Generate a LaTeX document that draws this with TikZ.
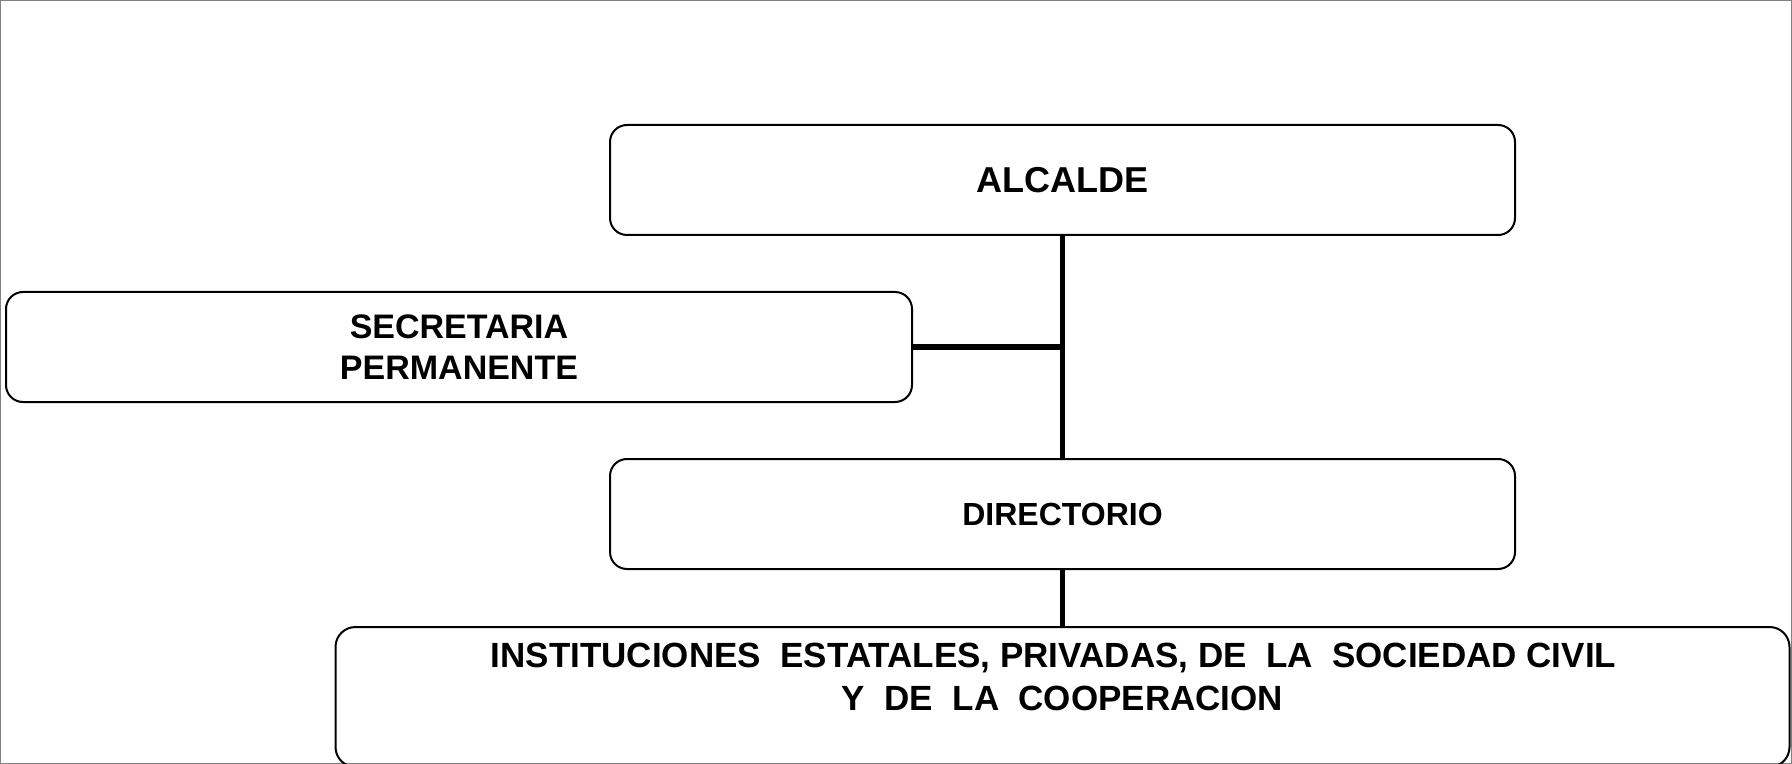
\documentclass[tikz,border=0pt]{standalone}
\usepackage{fontspec}
\setmainfont{Liberation Sans}
\usetikzlibrary{positioning}

\begin{document}
\begin{tikzpicture}[
    x=1pt, y=1pt,
    unit/.style={rectangle, draw=black, line width=1pt, rounded corners=8.5pt, inner sep=0pt, align=center, font=\bfseries},
    link/.style={line width=2.8pt, black}
]
\useasboundingbox (0,0) rectangle (896,-382);
\draw[gray, line width=0.5pt] (0.25,-0.25) rectangle (895.75,-381.75);

% Top: head of the organisation
\node[unit, minimum width=452.5pt, minimum height=55pt, font=\bfseries\fontsize{18}{22}\selectfont] (alcalde) at (531.25,-90) {ALCALDE};

% Side unit
\node[unit, anchor=north west, minimum width=453pt, minimum height=55pt, font=\bfseries\fontsize{17}{20.5}\selectfont] (secretaria) at (2.5,-145.5) {SECRETARIA\\PERMANENTE};

% Middle
\node[unit, below=111pt of alcalde, minimum width=452.5pt, minimum height=55pt, font=\bfseries\fontsize{16}{20}\selectfont] (directorio) {DIRECTORIO};

% Bottom
\node[unit, below=28pt of directorio, minimum width=727pt, minimum height=70pt, rounded corners=10pt, font=\bfseries\fontsize{17.5}{21.5}\selectfont] (instituciones) {INSTITUCIONES\ \ ESTATALES, PRIVADAS, DE\ \ LA\ \ SOCIEDAD CIVIL\hspace*{9pt}\\Y\ \ DE\ \ LA\ \ COOPERACION\\[-8pt]\strut};

% Connections
\draw[link] (alcalde.south) -- (directorio.north);
\draw[link] (directorio.south) -- (instituciones.north);
\draw[link] (secretaria.east) -- (secretaria.east -| alcalde.south);

\end{tikzpicture}
\end{document}
